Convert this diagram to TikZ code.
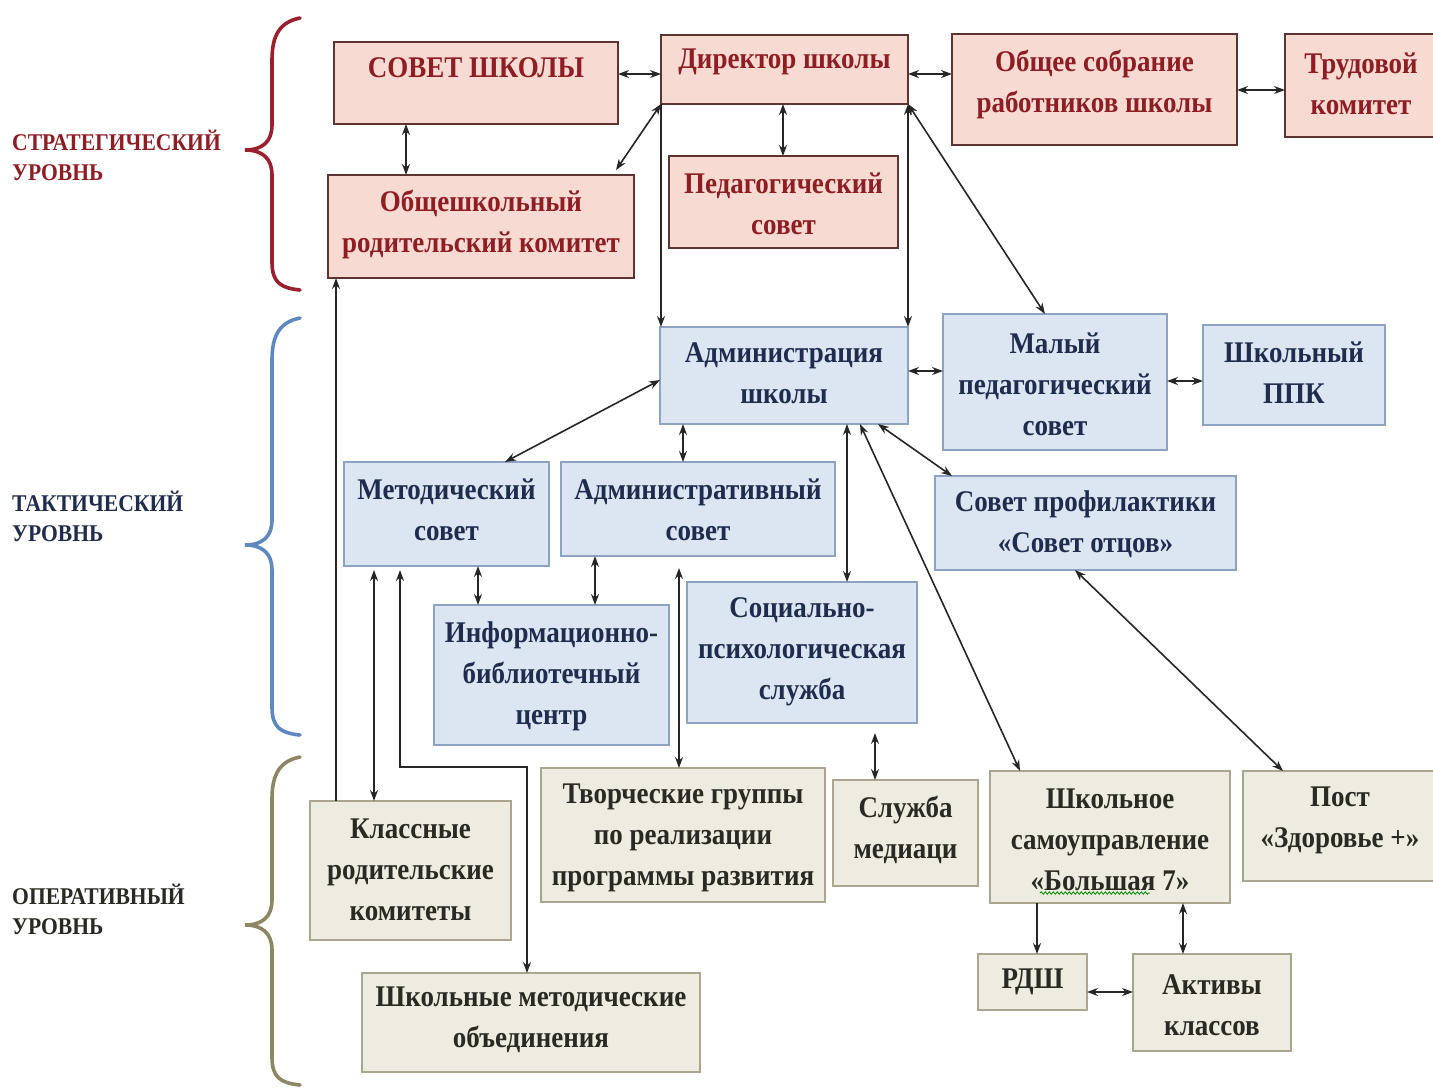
\documentclass[tikz,border=0pt]{standalone}
\usepackage{fontspec}
\setmainfont{Liberation Serif}[FakeStretch=0.9]
\usetikzlibrary{arrows.meta,calc,decorations.pathmorphing}
\definecolor{pinkfill}{HTML}{F7DBD2}
\definecolor{pinkline}{HTML}{5E3431}
\definecolor{pinktext}{HTML}{8E1D24}
\definecolor{bluefill}{HTML}{DCE6F2}
\definecolor{blueline}{HTML}{8CA3C3}
\definecolor{bluetext}{HTML}{1F2C4E}
\definecolor{beigefill}{HTML}{EEECE1}
\definecolor{beigeline}{HTML}{A9A58F}
\definecolor{beigetext}{HTML}{2A2A22}
\definecolor{bracered}{HTML}{9B1F2E}
\definecolor{braceblue}{HTML}{5F88C0}
\definecolor{braceolive}{HTML}{8C8664}
\newcommand\boxfont{\fontsize{30}{41}\selectfont\bfseries}
\newcommand\lvlfont{\fontsize{24}{30}\selectfont\bfseries}
\newcommand\obox[8]{%
  \node[#1, anchor=north west, minimum width=#5pt-#3pt, minimum height=#6pt-#4pt] (#2) at (#3,#4) {};
  \node[#1t] (#2t) at ({(#3+#5)/2},#7) {#8};
}
\tikzset{
  pinkbox/.style={draw=pinkline, fill=pinkfill, line width=1.6pt, inner sep=0pt, outer sep=0pt},
  pinkboxt/.style={text=pinktext, font=\boxfont, align=center, inner sep=0pt},
  bluebox/.style={draw=blueline, fill=bluefill, line width=1.6pt, inner sep=0pt, outer sep=0pt},
  blueboxt/.style={text=bluetext, font=\boxfont, align=center, inner sep=0pt},
  beigebox/.style={draw=beigeline, fill=beigefill, line width=1.6pt, inner sep=0pt, outer sep=0pt},
  beigeboxt/.style={text=beigetext, font=\boxfont, align=center, inner sep=0pt},
  conn/.style={line width=1.6pt, draw=black!85},
  lvl/.style={font=\lvlfont, align=left, anchor=west, inner sep=0pt},
  brace/.style={line width=3.6pt, line cap=round},
  >={Stealth[length=11pt,width=8pt]}
}
\begin{document}
\begin{tikzpicture}[x=1pt,y=-1pt]
\useasboundingbox (0,0) rectangle (1433,1088);
\clip (0,0) rectangle (1433,1088);
\fill[white] (0,0) rectangle (1433,1088);

% level labels
\node[lvl, text=pinktext] (lstrat) at (12,155) {СТРАТЕГИЧЕСКИЙ\\УРОВНЬ};
\node[lvl, text=bluetext] (ltact) at (12,516) {ТАКТИЧЕСКИЙ\\УРОВНЬ};
\node[lvl, text=beigetext] (loper) at (12,909) {ОПЕРАТИВНЫЙ\\УРОВНЬ};

% braces
\draw[brace, bracered] (300,18) .. controls (280,22) and (272,35) .. (272,60) -- (272,125) .. controls (272,142) and (262,150) .. (245,150) .. controls (262,150) and (272,158) .. (272,175) -- (272,262) .. controls (272,282) and (280,288) .. (300,290);
\draw[brace, braceblue] (300,318) .. controls (280,322) and (272,335) .. (272,360) -- (272,520) .. controls (272,537) and (262,545) .. (245,545) .. controls (262,545) and (272,553) .. (272,570) -- (272,707) .. controls (272,727) and (280,733) .. (300,735);
\draw[brace, braceolive] (300,757) .. controls (280,761) and (272,774) .. (272,799) -- (272,900) .. controls (272,917) and (262,925) .. (245,925) .. controls (262,925) and (272,933) .. (272,950) -- (272,1057) .. controls (272,1077) and (280,1083) .. (300,1085);

% strategic
\obox{pinkbox}{sovet}{334}{42}{618}{124}{68}{СОВЕТ ШКОЛЫ}
\obox{pinkbox}{dir}{661}{35}{908}{104}{62}{Директор школы}
\obox{pinkbox}{obsh}{952}{34}{1237}{145}{84}{Общее собрание\\работников школы}
\obox{pinkbox}{trud}{1285}{34}{1437}{137}{84}{Трудовой\\комитет}
\obox{pinkbox}{rodit}{328}{175}{634}{278}{224}{Общешкольный\\родительский комитет}
\obox{pinkbox}{ped}{669}{156}{898}{248}{204}{Педагогический\\совет}

% tactical
\obox{bluebox}{admin}{660}{327}{908}{424}{373}{Администрация\\школы}
\obox{bluebox}{maly}{943}{314}{1167}{450}{384}{Малый\\педагогический\\совет}
\obox{bluebox}{ppk}{1203}{325}{1385}{425}{373}{Школьный\\ППК}
\obox{bluebox}{metod}{344}{462}{549}{566}{510}{Методический\\совет}
\obox{bluebox}{adm}{561}{462}{835}{556}{510}{Административный\\совет}
\obox{bluebox}{prof}{935}{476}{1236}{570}{524}{Совет профилактики\\«Совет отцов»}
\obox{bluebox}{info}{434}{605}{669}{745}{676}{Информационно-\\библиотечный\\центр}
\obox{bluebox}{soc}{687}{582}{917}{723}{652}{Социально-\\психологическая\\служба}

% operational
\obox{beigebox}{klass}{310}{801}{511}{940}{870}{Классные\\родительские\\комитеты}
\obox{beigebox}{tvor}{541}{768}{825}{902}{838}{Творческие группы\\по реализации\\программы развития}
\obox{beigebox}{med}{833}{780}{978}{886}{830}{Служба\\медиаци}
\obox{beigebox}{samo}{990}{771}{1230}{903}{840}{Школьное\\самоуправление\\«Большая 7»}
\obox{beigebox}{post}{1243}{771}{1437}{881}{820}{Пост\\«Здоровье +»}
\obox{beigebox}{shmo}{362}{973}{700}{1072}{1020}{Школьные методические\\объединения}
\obox{beigebox}{rdsh}{978}{954}{1087}{1010}{982}{РДШ}
\obox{beigebox}{akt}{1133}{954}{1291}{1051}{1005}{Активы\\классов}

% spell-check squiggle
\draw[green!55!black, line width=0.8pt, decorate, decoration={snake, amplitude=1.2pt, segment length=4pt}] (1040,893) -- (1150,893);

% connectors strategic
\draw[conn,<->] (sovet.east |- 0,74) -- (dir.west |- 0,74);
\draw[conn,<->] (dir.east |- 0,74) -- (obsh.west |- 0,74);
\draw[conn,<->] (obsh.east |- 0,90) -- (trud.west |- 0,90);
\draw[conn,<->] (sovet.south -| 406,0) -- (rodit.north -| 406,0);
\draw[conn,<->] (dir.south -| 783,0) -- (ped.north -| 783,0);
\draw[conn,<->] (dir.south west) -- ([xshift=-18pt,yshift=5pt]rodit.north east);
\draw[conn,->] (dir.south west) -- (admin.north -| dir.west);
\draw[conn,<->] (dir.south east) -- (admin.north -| dir.east);
\draw[conn,<->] (dir.south east) -- (maly.north -| 1045,0);

% connectors tactical
\draw[conn,<->] (admin.east |- 0,371) -- (maly.west |- 0,371);
\draw[conn,<->] (maly.east |- 0,381) -- (ppk.west |- 0,381);
\draw[conn,<->] (admin.west |- 0,380) -- (metod.north -| 505,0);
\draw[conn,<->] (admin.south -| 683,0) -- (adm.north -| 683,0);
\draw[conn,<->] (admin.south -| 847,0) -- (soc.north -| 847,0);
\draw[conn,<->] (admin.south -| 860,0) -- (samo.north -| 1020,0);
\draw[conn,<->] (admin.south -| 878,0) -- (prof.north -| 952,0);
\draw[conn,<->] (metod.south -| 478,0) -- (info.north -| 478,0);
\draw[conn,<->] (adm.south -| 595,0) -- (info.north -| 595,0);
\draw[conn,<->,shorten <=12pt] (adm.south -| 679,0) -- (tvor.north -| 679,0);
\draw[conn,<->,shorten <=10pt] (soc.south -| 875,0) -- (med.north -| 875,0);
\draw[conn,<->] (prof.south -| 1075,0) -- (post.north -| 1283,0);

% connectors operational
\draw[conn,<->,shorten <=4pt] (metod.south -| 374,0) -- (klass.north -| 374,0);
\draw[conn,->] (klass.north -| 336,0) -- (rodit.south -| 336,0);
\coordinate (bendA) at (400,767);
\coordinate (bendB) at (527,767);
\draw[conn,<->,shorten <=4pt] (metod.south -| 400,0) -- (bendA) -- (bendB) -- (shmo.north -| 527,0);
\draw[conn,->] (samo.south -| 1037,0) -- (rdsh.north -| 1037,0);
\draw[conn,<->] (samo.south -| 1183,0) -- (akt.north -| 1183,0);
\draw[conn,<->] (rdsh.east |- 0,992) -- (akt.west |- 0,992);
\end{tikzpicture}
\end{document}
